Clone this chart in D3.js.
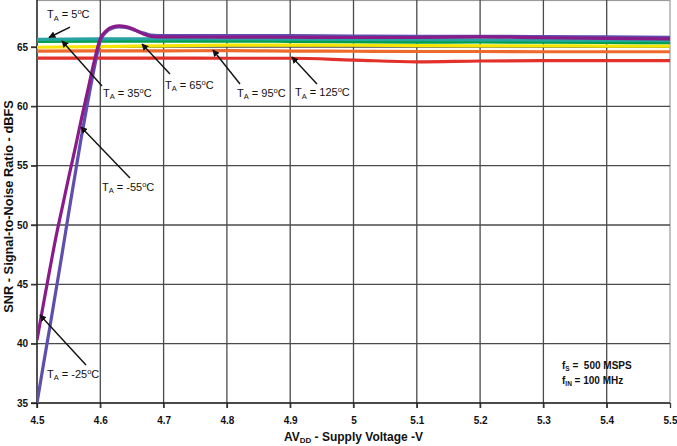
<!DOCTYPE html>
<html><head><meta charset="utf-8">
<script src="https://cdn.jsdelivr.net/npm/d3@7"></script>
<style>
html,body{margin:0;padding:0;background:#fff;}
svg{display:block;font-family:"Liberation Sans",Arial,sans-serif;}
text{white-space:pre;}
</style></head>
<body>
<svg id="chart" width="677" height="446"></svg>
<script>
// ---- data ----
const xFlat = [4.5, 4.6, 4.7, 4.8, 4.9, 5.0, 5.1, 5.2, 5.3, 5.4, 5.5];
const xCold = [4.5, 4.51, 4.52, 4.53, 4.54, 4.55, 4.56, 4.57, 4.58, 4.59, 4.6, 4.61, 4.62, 4.63, 4.64, 4.65, 4.66, 4.67, 4.68, 4.7, 4.8, 4.9, 5.0, 5.1, 5.2, 5.3, 5.4, 5.5];
const snrM55 = [35.0, 38.2, 41.3, 44.5, 47.7, 51.0, 54.2, 57.4, 60.3, 63.1, 65.5, 66.3, 66.6, 66.7, 66.65, 66.5, 66.3, 66.15, 66.0, 65.95, 65.97, 65.95, 65.92, 65.9, 65.9, 65.88, 65.85, 65.82];
const snrM25 = [40.3, 43.3, 46.2, 49.0, 51.5, 54.0, 56.4, 58.9, 61.3, 63.7, 65.7, 66.4, 66.7, 66.78, 66.72, 66.55, 66.3, 66.05, 65.9, 65.85, 65.84, 65.82, 65.8, 65.8, 65.85, 65.78, 65.72, 65.68];
const snr5   = [65.65, 65.68, 65.68, 65.68, 65.66, 65.64, 65.62, 65.6, 65.58, 65.56, 65.54];
const snr35  = [65.48, 65.5, 65.5, 65.5, 65.48, 65.45, 65.4, 65.42, 65.4, 65.38, 65.36];
const snr65  = [64.98, 65.03, 65.1, 65.15, 65.15, 65.15, 65.12, 65.1, 65.1, 65.08, 65.08];
const snr95  = [64.66, 64.68, 64.68, 64.69, 64.66, 64.64, 64.62, 64.62, 64.6, 64.6, 64.6];
const snr125 = [64.07, 64.06, 64.06, 64.05, 64.05, 63.9, 63.75, 63.82, 63.85, 63.85, 63.85];

const xTicks = [4.5, 4.6, 4.7, 4.8, 4.9, 5.0, 5.1, 5.2, 5.3, 5.4, 5.5];
const yTicks = [35, 40, 45, 50, 55, 60, 65];

// annotation labels: temperature, text anchor (x,y), arrow start, arrow tip (data units)
const labelTemps = ["5", "35", "65", "95", "125", "-55", "-25"];
const labelPos   = [[4.5158, 67.44], [4.6043, 60.79], [4.7022, 61.5], [4.816, 60.79], [4.9076, 60.87], [4.6027, 52.87], [4.5158, 37.11]];
const arrowFrom  = [[4.5521, 66.68], [4.6027, 61.71], [4.7101, 62.72], [4.8207, 61.88], [4.9423, 61.88], [4.6469, 53.96], [4.5774, 38.21]];
const arrowTo    = [[4.519, 65.8], [4.5395, 65.51], [4.6659, 65.25], [4.778, 64.75], [4.9028, 64.16], [4.5695, 58.26], [4.5047, 42.42]];

// ---- chart ----
const W = 677, H = 446;
const m = {left: 37, right: 7, top: 0, bottom: 43};
const svg = d3.select("#chart");
const x = d3.scaleLinear().domain([4.5, 5.5]).range([m.left, W - m.right]);
const y = d3.scaleLinear().domain([35, 68.96]).range([H - m.bottom, m.top]);

// frame
svg.append("rect").attr("x", x(4.5)).attr("y", y(68.96) + 0.5)
  .attr("width", x(5.5) - x(4.5)).attr("height", y(35) - y(68.96) - 0.5)
  .attr("fill", "none").attr("stroke", "#9a9a9a").attr("stroke-width", 1.2);

// grid
const g = svg.append("g");
g.selectAll(".vg").data(xTicks.slice(1, -1)).join("line")
  .attr("x1", d => x(d)).attr("x2", d => x(d))
  .attr("y1", y(68.96)).attr("y2", y(35) + 5)
  .attr("stroke", "#4a4a4a").attr("stroke-width", 1.3);
g.selectAll(".hg").data(yTicks.slice(1)).join("line")
  .attr("x1", x(4.5) - 6).attr("x2", x(5.5))
  .attr("y1", d => y(d)).attr("y2", d => y(d))
  .attr("stroke", "#4a4a4a").attr("stroke-width", 1.3);

// axes
const xAxis = svg.append("g").attr("transform", `translate(0,${y(35)})`)
  .call(d3.axisBottom(x).tickValues(xTicks).tickSize(5).tickPadding(9)
    .tickFormat(d => d3.format("")(+d.toFixed(1))));
const yAxis = svg.append("g").attr("transform", `translate(${x(4.5)},0)`)
  .call(d3.axisLeft(y).tickValues(yTicks).tickSize(6).tickPadding(3));
[xAxis, yAxis].forEach(a => {
  a.select(".domain").remove();
  a.selectAll(".tick line").attr("stroke", "#333").attr("stroke-width", 1.3);
  a.selectAll(".tick text").attr("font-size", 10).attr("font-weight", "bold")
    .attr("fill", "#111").attr("font-family", "Liberation Sans, Arial, sans-serif");
});
// axis lines
svg.append("line").attr("x1", x(4.5)).attr("x2", x(4.5)).attr("y1", y(68.96)).attr("y2", y(35) + 5)
  .attr("stroke", "#222").attr("stroke-width", 1.4);
svg.append("line").attr("x1", x(4.5) - 6).attr("x2", x(5.5)).attr("y1", y(35)).attr("y2", y(35))
  .attr("stroke", "#222").attr("stroke-width", 1.4);

// series
const line = d3.line().x(d => x(d[0])).y(d => y(d[1])).curve(d3.curveMonotoneX);
const series = [
  {xs: xFlat, ys: snr125, c: "#e2312b"},
  {xs: xFlat, ys: snr95,  c: "#ee6a2c"},
  {xs: xFlat, ys: snr65,  c: "#f4e600"},
  {xs: xFlat, ys: snr35,  c: "#00a04e"},
  {xs: xFlat, ys: snr5,   c: "#27a3a3"},
  {xs: xCold, ys: snrM55, c: "#5e4fae"},
  {xs: xCold, ys: snrM25, c: "#8a1c8a"}
];
const clip = svg.append("clipPath").attr("id", "pc").append("rect")
  .attr("x", x(4.5)).attr("y", y(68.96)).attr("width", x(5.5) - x(4.5)).attr("height", y(35) - y(68.96));
svg.append("g").attr("clip-path", "url(#pc)").selectAll("path").data(series).join("path")
  .attr("d", s => line(s.xs.map((v, i) => [v, s.ys[i]])))
  .attr("fill", "none").attr("stroke", s => s.c).attr("stroke-width", 3.2)
  .attr("stroke-linejoin", "round");

// arrows
svg.append("defs").append("marker").attr("id", "ah").attr("viewBox", "0 0 10 10")
  .attr("refX", 9).attr("refY", 5).attr("markerWidth", 7).attr("markerHeight", 7)
  .attr("markerUnits", "userSpaceOnUse").attr("orient", "auto")
  .append("path").attr("d", "M0,0 L10,5 L0,10 z").attr("fill", "#111");
svg.append("g").selectAll("line").data(labelTemps).join("line")
  .attr("x1", (d, i) => x(arrowFrom[i][0])).attr("y1", (d, i) => y(arrowFrom[i][1]))
  .attr("x2", (d, i) => x(arrowTo[i][0])).attr("y2", (d, i) => y(arrowTo[i][1]))
  .attr("stroke", "#111").attr("stroke-width", 1.4).attr("marker-end", "url(#ah)");

// labels
const lab = svg.append("g").selectAll("text").data(labelTemps).join("text")
  .attr("x", (d, i) => x(labelPos[i][0])).attr("y", (d, i) => y(labelPos[i][1]))
  .attr("font-size", 11).attr("fill", "#111");
lab.each(function(d) {
  const t = d3.select(this);
  t.append("tspan").text("T");
  t.append("tspan").text("A").attr("font-size", 7.5).attr("dy", 2.5);
  t.append("tspan").text(" = " + d).attr("dy", -2.5);
  t.append("tspan").text("o").attr("font-size", 7.5).attr("dy", -4);
  t.append("tspan").text("C").attr("dy", 4);
});

// conditions note
const note = svg.append("g").attr("font-size", 10).attr("font-weight", "bold").attr("fill", "#111");
const n1 = note.append("text").attr("x", x(5.3294)).attr("y", y(37.87));
n1.append("tspan").text("f");
n1.append("tspan").text("S").attr("font-size", 6.5).attr("dy", 2);
n1.append("tspan").text(" =  500 MSPS").attr("dy", -2);
const n2 = note.append("text").attr("x", x(5.3294)).attr("y", y(36.61));
n2.append("tspan").text("f");
n2.append("tspan").text("IN").attr("font-size", 6.5).attr("dy", 2);
n2.append("tspan").text(" = 100 MHz").attr("dy", -2);

// axis titles
const xt = svg.append("text").attr("x", (x(4.5) + x(5.5)) / 2).attr("y", 441)
  .attr("text-anchor", "middle").attr("font-size", 12).attr("font-weight", "bold").attr("fill", "#111");
xt.append("tspan").text("AV");
xt.append("tspan").text("DD").attr("font-size", 8).attr("dy", 2);
xt.append("tspan").text(" - Supply Voltage -V").attr("dy", -2);
svg.append("text").attr("transform", `translate(13,${(y(35) + y(68.96)) / 2 + 5}) rotate(-90)`)
  .attr("text-anchor", "middle").attr("font-size", 12.8).attr("font-weight", "bold").attr("fill", "#111")
  .text("SNR - Signal-to-Noise Ratio - dBFS");
</script>
</body></html>
